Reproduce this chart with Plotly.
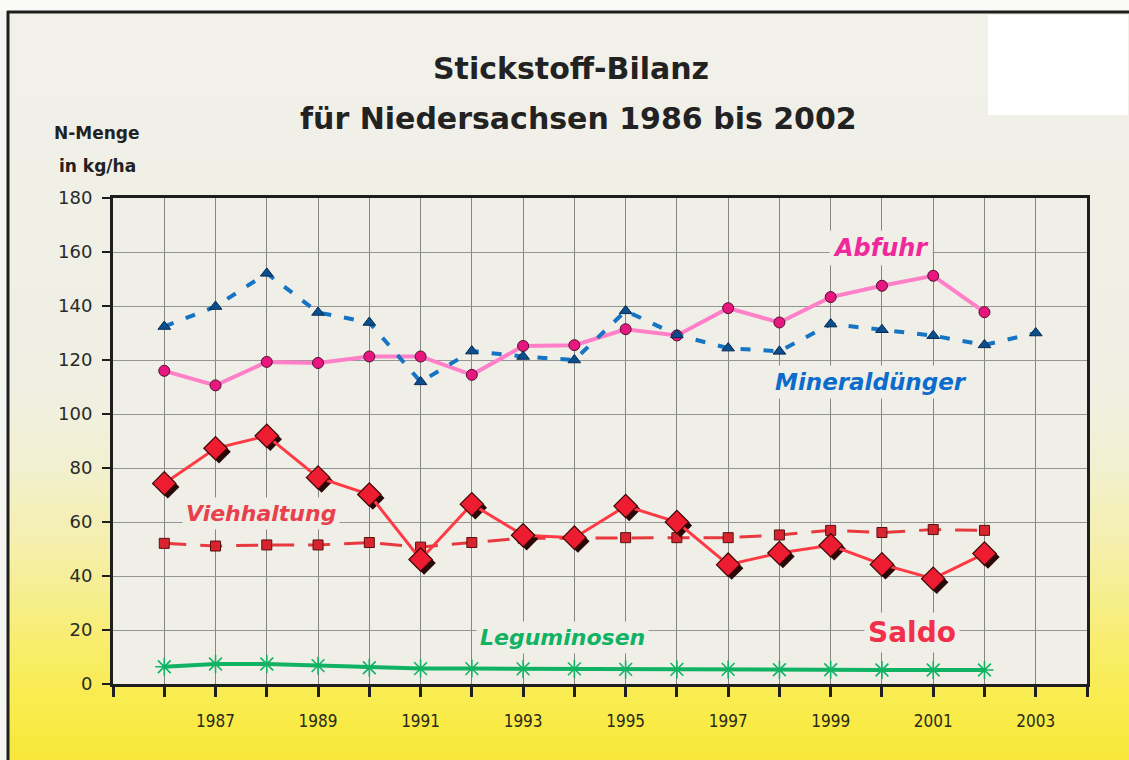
import plotly.graph_objects as go

# ---------------- data ----------------
years = [1986, 1987, 1988, 1989, 1990, 1991, 1992, 1993, 1994, 1995,
         1996, 1997, 1998, 1999, 2000, 2001, 2002]
years_min = years + [2003]

abfuhr = [116.0, 110.6, 119.3, 118.9, 121.3, 121.3, 114.5, 125.2, 125.5,
          131.4, 129.1, 139.2, 133.9, 143.3, 147.5, 151.2, 137.7]
mineralduenger = [132.4, 139.8, 152.1, 137.6, 133.9, 111.9, 123.3, 121.3, 120.0,
                  138.2, 129.3, 124.4, 123.2, 133.3, 131.2, 129.0, 125.6, 130.0]
saldo = [74.3, 87.3, 91.9, 76.5, 70.2, 46.1, 66.6, 55.1, 54.2,
         65.9, 60.0, 44.2, 48.5, 51.4, 44.3, 39.0, 48.3]
viehhaltung = [52.1, 51.1, 51.5, 51.5, 52.4, 50.7, 52.4, 54.0, 54.0,
               54.2, 54.2, 54.2, 55.2, 56.9, 56.1, 57.2, 56.9]
leguminosen = [6.4, 7.4, 7.4, 6.8, 6.0, 5.7, 5.7, 5.6, 5.6,
               5.4, 5.4, 5.4, 5.3, 5.3, 5.2, 5.2, 5.2]

x_tick_years = list(range(1985, 2005))
x_tick_labels = [str(y) if (y % 2 == 1 and 1987 <= y <= 2003) else "" for y in x_tick_years]
y_tick_values = [0, 20, 40, 60, 80, 100, 120, 140, 160, 180]

title_line1 = "Stickstoff-Bilanz"
title_line2 = "für Niedersachsen 1986 bis 2002"
y_label = ["N-Menge", "in kg/ha"]

# ---------------- layout geometry (pixels) ----------------
W, H = 1129, 760
L, R, T, B = 113, 42, 198, 76
PW, PH = W - L - R, H - T - B
X_RANGE = [1985, 2004]
Y_RANGE = [0, 180]

def xp(px):
    return (px - L) / PW

def yp(py):
    return (H - B - py) / PH

FONT = "DejaVu Sans"
PLOT_BG = "#efefe8"

fig = go.Figure()

# shadow offset for Saldo diamonds (axis range shifted by a few pixels)
sx = 3.5 * (X_RANGE[1] - X_RANGE[0]) / PW
sy = 3.5 * (Y_RANGE[1] - Y_RANGE[0]) / PH

fig.add_trace(go.Scatter(
    x=years, y=leguminosen, mode="lines+markers", name="Leguminosen",
    line=dict(color="#12b264", width=4),
    marker=dict(symbol="asterisk-open", size=15, line=dict(color="#45c88a", width=1.6)),
))
fig.add_trace(go.Scatter(
    x=years, y=viehhaltung, mode="lines+markers", name="Viehhaltung",
    line=dict(color="#e8393f", width=3, dash="22px,14px"),
    marker=dict(symbol="square", size=10, color="#d8242e", line=dict(color="#5a1010", width=1)),
))
fig.add_trace(go.Scatter(
    x=years, y=saldo, mode="markers", name="Saldo-Schatten", xaxis="x2", yaxis="y2",
    marker=dict(symbol="diamond", size=18, color="#2a0808"),
    showlegend=False, hoverinfo="skip",
))
fig.add_trace(go.Scatter(
    x=years, y=saldo, mode="lines+markers", name="Saldo", xaxis="x3", yaxis="y3",
    line=dict(color="#ff3a44", width=3),
    marker=dict(symbol="diamond", size=18, color="#ee1c30", line=dict(color="#3a0808", width=1.2)),
))
fig.add_trace(go.Scatter(
    x=years, y=abfuhr, mode="lines+markers", name="Abfuhr", xaxis="x3", yaxis="y3",
    line=dict(color="#ff80c8", width=4),
    marker=dict(symbol="circle", size=11, color="#e8167f", line=dict(color="#50102f", width=1)),
))
fig.add_trace(go.Scatter(
    x=years_min, y=mineralduenger, mode="lines+markers", name="Mineraldünger",
    xaxis="x3", yaxis="y3",
    line=dict(color="#1674c4", width=4, dash="10px,13px"),
    marker=dict(symbol="triangle-up", size=11, color="#0b4e8e", line=dict(color="#082a50", width=1)),
))

# ---------------- background ----------------
shapes = []
stops = [(0, (241, 241, 234)), (380, (240, 239, 228)), (460, (242, 240, 210)),
         (560, (245, 239, 165)), (650, (248, 237, 105)), (700, (249, 236, 78)),
         (760, (248, 232, 58))]

def col_at(py):
    for (a, ca), (b, cb) in zip(stops[:-1], stops[1:]):
        if a <= py <= b:
            t = (py - a) / (b - a)
            return tuple(round(ca[i] + (cb[i] - ca[i]) * t) for i in range(3))
    return stops[-1][1]

step = 8
for py in range(0, H, step):
    c = col_at(py + step / 2)
    shapes.append(dict(type="rect", xref="paper", yref="paper",
                       x0=xp(0), x1=xp(W), y0=yp(py + step + 0.5), y1=yp(py),
                       fillcolor="rgb(%d,%d,%d)" % c, line=dict(width=0), layer="below"))
# white outer strips
shapes.append(dict(type="rect", xref="paper", yref="paper", x0=xp(0), x1=xp(7),
                   y0=yp(H), y1=yp(0), fillcolor="#f4f4f0", line=dict(width=0), layer="below"))
shapes.append(dict(type="rect", xref="paper", yref="paper", x0=xp(0), x1=xp(W),
                   y0=yp(11), y1=yp(0), fillcolor="#fafaf8", line=dict(width=0), layer="below"))
# plot area
shapes.append(dict(type="rect", xref="paper", yref="paper", x0=0, x1=1, y0=0, y1=1,
                   fillcolor=PLOT_BG, line=dict(width=0), layer="below"))
# white box top right
shapes.append(dict(type="rect", xref="paper", yref="paper", x0=xp(988), x1=xp(1128),
                   y0=yp(115), y1=yp(15), fillcolor="#ffffff", line=dict(width=0), layer="below"))
# frame lines
shapes.append(dict(type="line", xref="paper", yref="paper", x0=xp(8), x1=xp(8),
                   y0=yp(H), y1=yp(11), line=dict(color="#1e1e1e", width=3), layer="above"))
shapes.append(dict(type="line", xref="paper", yref="paper", x0=xp(7), x1=xp(W),
                   y0=yp(12), y1=yp(12), line=dict(color="#1e1e1e", width=3), layer="above"))

# ---------------- text ----------------
annotations = []

def text_at(text, cx, cy, color, size, italic=False, bg=None, weight="bold"):
    a = dict(text=text, x=xp(cx), y=yp(cy), xref="paper", yref="paper", showarrow=False,
             xanchor="center", yanchor="middle",
             font=dict(family=FONT, size=size, color=color, weight=weight,
                       style="italic" if italic else "normal"))
    if bg:
        a.update(bgcolor=bg, borderpad=3)
    annotations.append(a)

text_at(title_line1, 571, 68, "#222222", 30)
text_at(title_line2, 578, 118, "#222222", 30)
text_at(y_label[0], 97, 133, "#222222", 17)
text_at(y_label[1], 97, 166, "#222222", 17)

text_at("Abfuhr", 881, 248, "#f0289c", 24, italic=True, bg=PLOT_BG)
text_at("Mineraldünger", 871, 382, "#0c6ccb", 23, italic=True, bg=PLOT_BG)
text_at("Viehhaltung", 261, 513, "#e8404c", 22, italic=True, bg=PLOT_BG)
text_at("Leguminosen", 562, 637, "#12b264", 22, italic=True, bg=PLOT_BG)
text_at("Saldo", 912, 632, "#f2304c", 28, bg=PLOT_BG)

axis_common = dict(showgrid=True, gridwidth=1, zeroline=False)

fig.update_layout(
    width=W, height=H,
    margin=dict(l=L, r=R, t=T, b=B),
    paper_bgcolor="rgba(0,0,0,0)",
    plot_bgcolor="rgba(0,0,0,0)",
    showlegend=False,
    shapes=shapes,
    annotations=annotations,
    xaxis=dict(range=X_RANGE, tickvals=x_tick_years, ticktext=x_tick_labels,
               gridcolor="#858585", showline=True, linecolor="#1e1e1e", linewidth=3,
               mirror=True, ticks="outside", ticklen=10, tickwidth=3, tickcolor="#1e1e1e",
               ticklabelstandoff=10,
               tickfont=dict(family="DejaVu Sans Condensed", size=17, color="#2a2a1a"),
               **axis_common),
    yaxis=dict(range=Y_RANGE, tickvals=y_tick_values,
               gridcolor="#959595", showline=True, linecolor="#1e1e1e", linewidth=3,
               mirror=True, ticks="outside", ticklen=8, tickwidth=2, tickcolor="#1e1e1e",
               ticklabelstandoff=6,
               tickfont=dict(family=FONT, size=18, color="#2a2a2a"), **axis_common),
    xaxis2=dict(range=[X_RANGE[0] - sx, X_RANGE[1] - sx], overlaying="x", visible=False),
    yaxis2=dict(range=[Y_RANGE[0] + sy, Y_RANGE[1] + sy], overlaying="y", visible=False),
    xaxis3=dict(range=X_RANGE, overlaying="x", visible=False),
    yaxis3=dict(range=Y_RANGE, overlaying="y", visible=False),
)

fig.write_html(
    "out.html",
    config={"displayModeBar": False},
    post_script="document.body.style.margin='0';document.body.style.overflow='hidden';",
)
